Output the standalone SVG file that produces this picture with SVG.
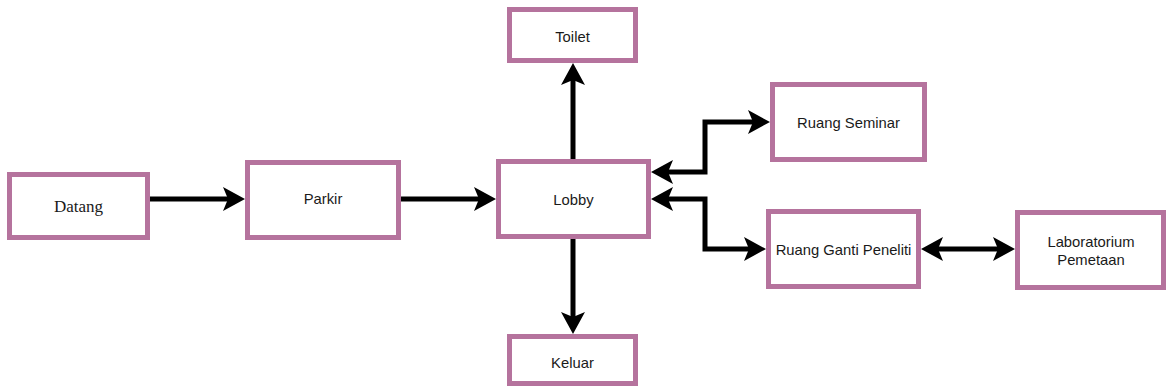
<svg xmlns="http://www.w3.org/2000/svg" width="1167" height="390" viewBox="0 0 1167 390">
<style>
.box{fill:#ffffff;stroke:#B5739D;stroke-width:5}
.lbl{font-family:"Liberation Sans",Arial,sans-serif;font-size:14.8px;fill:#1a1a1a;text-anchor:middle}
.ser{font-family:"Liberation Serif","Times New Roman",serif;font-size:17px;fill:#1a1a1a;text-anchor:middle}
.con{fill:none;stroke:#000000;stroke-width:5;stroke-linejoin:miter}
</style>
<defs>
<marker id="ah" viewBox="0 0 22 24" refX="12" refY="12" markerWidth="22" markerHeight="24" markerUnits="userSpaceOnUse" orient="auto-start-reverse">
<path d="M0,0 L22,12 L0,24 L5,12 Z" fill="#000000"/>
</marker>
</defs>
<rect width="1167" height="390" fill="#ffffff"/>
<g id="connectors">
<path class="con" d="M150,199 L235,199" marker-end="url(#ah)"/>
<path class="con" d="M401,199 L486,199" marker-end="url(#ah)"/>
<path class="con" d="M573,159 L573,73" marker-end="url(#ah)"/>
<path class="con" d="M573,239 L573,324" marker-end="url(#ah)"/>
<path class="con" d="M661,172 L705,172 L705,122 L760,122" marker-start="url(#ah)" marker-end="url(#ah)"/>
<path class="con" d="M661,199 L705,199 L705,249 L756,249" marker-start="url(#ah)" marker-end="url(#ah)"/>
<path class="con" d="M931,249 L1005,249" marker-start="url(#ah)" marker-end="url(#ah)"/>
</g>
<g id="datang"><rect class="box" x="9.5" y="174.5" width="138" height="63"/><text class="ser" x="78.5" y="212">Datang</text></g>
<g id="parkir"><rect class="box" x="247.5" y="162.5" width="151" height="75"/><text class="lbl" x="323" y="204">Parkir</text></g>
<g id="lobby"><rect class="box" x="498.5" y="161.5" width="150" height="75"/><text class="lbl" x="573.5" y="205">Lobby</text></g>
<g id="toilet"><rect class="box" x="509.5" y="9.5" width="126" height="51"/><text class="lbl" x="572.5" y="42">Toilet</text></g>
<g id="keluar"><rect class="box" x="509.5" y="336.5" width="126" height="47"/><text class="lbl" x="572.5" y="368">Keluar</text></g>
<g id="ruang-seminar"><rect class="box" x="772.5" y="84.5" width="152" height="75"/><text class="lbl" x="848.5" y="128">Ruang Seminar</text></g>
<g id="ruang-ganti"><rect class="box" x="768.5" y="211.5" width="150" height="75"/><text class="lbl" x="843.5" y="255">Ruang Ganti Peneliti</text></g>
<g id="laboratorium"><rect class="box" x="1017.5" y="212.5" width="146" height="75"/><text class="lbl" x="1091" y="247">Laboratorium</text><text class="lbl" x="1091" y="265">Pemetaan</text></g>
</svg>
